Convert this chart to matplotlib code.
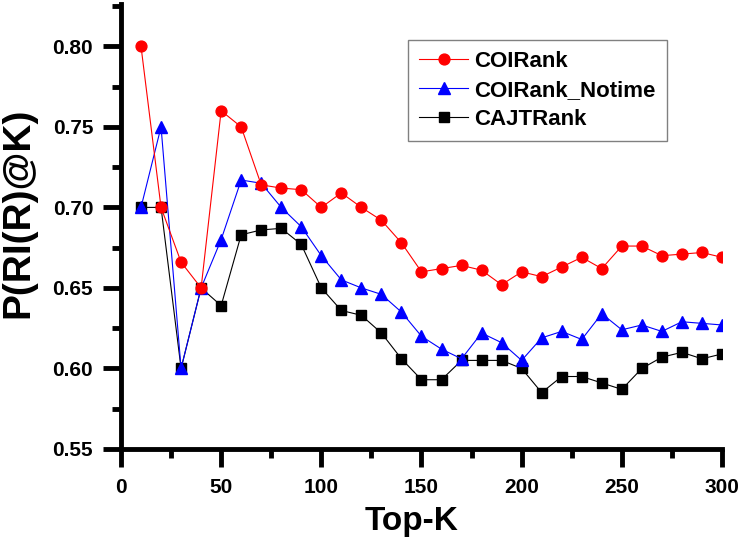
import matplotlib
matplotlib.use('Agg')
import matplotlib.pyplot as plt
from matplotlib.ticker import MultipleLocator, FormatStrFormatter

plt.rcParams['font.family'] = ['Liberation Sans', 'DejaVu Sans']
plt.rcParams['font.weight'] = 'bold'

topk = [10, 20, 30, 40, 50, 60, 70, 80, 90, 100,
        110, 120, 130, 140, 150, 160, 170, 180, 190, 200,
        210, 220, 230, 240, 250, 260, 270, 280, 290, 300]
coirank = [0.800, 0.700, 0.666, 0.650, 0.760, 0.750, 0.714, 0.712, 0.711, 0.700,
           0.709, 0.700, 0.692, 0.678, 0.660, 0.662, 0.664, 0.661, 0.652, 0.660,
           0.657, 0.663, 0.669, 0.662, 0.676, 0.676, 0.670, 0.671, 0.672, 0.669]
coirank_notime = [0.700, 0.750, 0.600, 0.650, 0.680, 0.717, 0.715, 0.700, 0.688, 0.670,
                  0.655, 0.650, 0.646, 0.635, 0.620, 0.612, 0.606, 0.622, 0.616, 0.605,
                  0.619, 0.623, 0.618, 0.634, 0.624, 0.627, 0.623, 0.629, 0.628, 0.627]
cajtrank = [0.700, 0.700, 0.600, 0.650, 0.639, 0.683, 0.686, 0.687, 0.677, 0.650,
            0.636, 0.633, 0.622, 0.606, 0.593, 0.593, 0.605, 0.605, 0.605, 0.600,
            0.585, 0.595, 0.595, 0.591, 0.587, 0.600, 0.607, 0.610, 0.606, 0.609]

fig = plt.figure(figsize=(7.44, 5.47), dpi=100)
ax = fig.add_axes([0.1626, 0.1792, 0.8078, 0.8126])

# black first so red sits on top, like the original
l3, = ax.plot(topk, cajtrank, color='black', lw=0.8, marker='s', ms=6.5, label='CAJTRank')
l2, = ax.plot(topk, coirank_notime, color='blue', lw=0.8, marker='^', ms=9, label='COIRank_Notime')
l1, = ax.plot(topk, coirank, color='red', lw=0.8, marker='o', ms=7.8, label='COIRank')

ax.set_xlim(0, 300)
ax.set_ylim(0.55, 0.826)
ax.xaxis.set_major_locator(MultipleLocator(50))
ax.xaxis.set_minor_locator(MultipleLocator(25))
ax.yaxis.set_major_locator(MultipleLocator(0.05))
ax.yaxis.set_minor_locator(MultipleLocator(0.025))
ax.yaxis.set_major_formatter(FormatStrFormatter('%.2f'))

for s in ['top', 'right']:
    ax.spines[s].set_visible(False)
for s in ['left', 'bottom']:
    ax.spines[s].set_linewidth(3.5)
ax.tick_params(which='major', direction='out', length=13, width=3.5, labelsize=15, pad=7)
ax.tick_params(which='minor', direction='out', length=6.5, width=3.5)
ax.tick_params(axis='x', which='major', pad=8)

ax.set_xlabel('Top-K', fontsize=24, fontweight='bold')
ax.xaxis.set_label_coords(0.484, -0.128)
ax.set_ylabel('P(RI(R)@K)', fontsize=28, fontweight='bold')
ax.yaxis.set_label_coords(-0.141, 0.531)

leg = ax.legend(handles=[l1, l2, l3], loc='upper left', bbox_to_anchor=(0.4775, 0.92),
                borderaxespad=0, fancybox=False, edgecolor='#808080', framealpha=1,
                handlelength=2.2, labelspacing=0.36, borderpad=0.5,
                handletextpad=0.3, prop={'weight': 'bold', 'size': 16})
leg.get_frame().set_linewidth(1.0)

fig.savefig('out.png', dpi=100)
